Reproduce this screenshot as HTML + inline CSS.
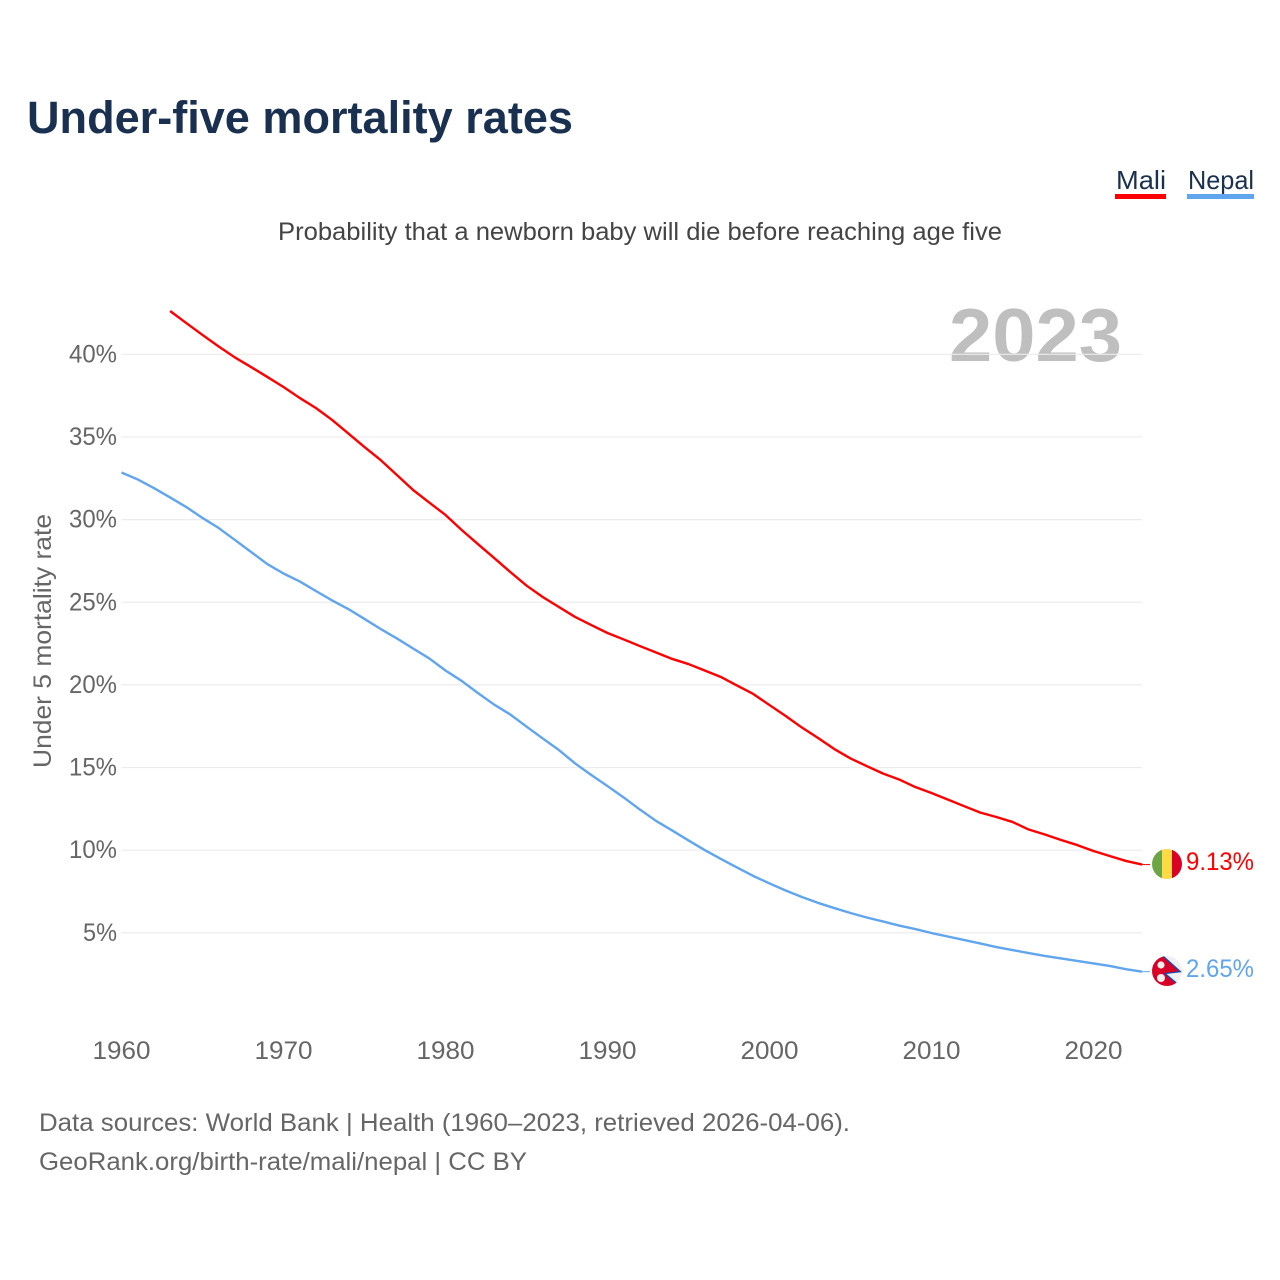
<!DOCTYPE html>
<html lang="en">
<head>
<meta charset="utf-8">
<title>Under-five mortality rates</title>
<style>
html,body{margin:0;padding:0;background:#fff;width:1280px;height:1280px;overflow:hidden}
svg{display:block}
text{font-family:"Liberation Sans",sans-serif}
</style>
</head>
<body>
<svg id="chart" xmlns="http://www.w3.org/2000/svg" width="1280" height="1280" viewBox="0 0 1280 1280">
  <rect width="1280" height="1280" fill="#ffffff"/>
  <text x="27" y="133" font-size="45" font-weight="700" fill="#1a3050" textLength="546" lengthAdjust="spacingAndGlyphs">Under-five mortality rates</text>
  <g>
    <text x="1116" y="189" font-size="26" fill="#1a3050" textLength="50" lengthAdjust="spacingAndGlyphs">Mali</text>
    <rect x="1115" y="194" width="51" height="5" fill="#ff0000"/>
  </g>
  <g>
    <text x="1188" y="189" font-size="26" fill="#1a3050" textLength="66" lengthAdjust="spacingAndGlyphs">Nepal</text>
    <rect x="1187" y="194" width="67" height="5" fill="#60a5ee"/>
  </g>
  <text x="278" y="240" font-size="25" fill="#444444" textLength="724" lengthAdjust="spacingAndGlyphs">Probability that a newborn baby will die before reaching age five</text>
  <text x="949" y="361" font-size="75" font-weight="700" fill="#bfbfbf" textLength="173" lengthAdjust="spacingAndGlyphs">2023</text>
  <g id="grid"></g>
  <g id="yticks"></g>
  <g id="xticks"></g>
  <text transform="translate(51,641) rotate(-90)" text-anchor="middle" font-size="25" fill="#666666" textLength="254" lengthAdjust="spacingAndGlyphs">Under 5 mortality rate</text>
  <g id="series"></g>
  <defs>
    <clipPath id="mali-clip"><circle cx="1167" cy="864" r="15"/></clipPath>
    <clipPath id="nepal-clip"><circle cx="1167" cy="971" r="15"/></clipPath>
  </defs>
  <g clip-path="url(#mali-clip)">
    <rect x="1152" y="849" width="10" height="30" fill="#6da544"/>
    <rect x="1162" y="849" width="10" height="30" fill="#ffda44"/>
    <rect x="1172" y="849" width="10" height="30" fill="#d80027"/>
  </g>
  <g clip-path="url(#nepal-clip)">
    <rect x="1152" y="956" width="30" height="30" fill="#f0f0f0"/>
    <polygon points="1150,954 1163,956 1180.5,971.7 1165,973.5 1177,983.5 1176,990 1150,990" fill="#d80027" stroke="#0052b4" stroke-width="1.2"/>
    <circle cx="1161" cy="965" r="3.6" fill="#f0f0f0"/>
    <circle cx="1161" cy="978" r="4" fill="#f0f0f0"/>
  </g>
  <text x="1186" y="870" font-size="25" fill="#ff0000" textLength="68" lengthAdjust="spacingAndGlyphs">9.13%</text>
  <text x="1186" y="977" font-size="25" fill="#60a5ee" textLength="68" lengthAdjust="spacingAndGlyphs">2.65%</text>
  <text x="39" y="1131" font-size="25" fill="#666666" textLength="811" lengthAdjust="spacingAndGlyphs">Data sources: World Bank | Health (1960–2023, retrieved 2026-04-06).</text>
  <text x="39" y="1170" font-size="25" fill="#666666" textLength="488" lengthAdjust="spacingAndGlyphs">GeoRank.org/birth-rate/mali/nepal | CC BY</text>
</svg>
<script>
const startYear = 1960;
const yTickValues = [5, 10, 15, 20, 25, 30, 35, 40];
const xTickYears = [1960, 1970, 1980, 1990, 2000, 2010, 2020];
const maliValues = [null, null, null,
  42.62, 41.89, 41.17, 40.47, 39.81, 39.23, 38.63, 38.02, 37.36, 36.75, 36.03, 35.21, 34.39, 33.60, 32.70, 31.79,
  31.03, 30.28, 29.37, 28.52, 27.68, 26.83, 26.01, 25.32, 24.71, 24.11, 23.62, 23.14, 22.75, 22.35, 21.96, 21.57,
  21.26, 20.87, 20.48, 19.96, 19.45, 18.78, 18.12, 17.42, 16.79, 16.12, 15.55, 15.09, 14.64, 14.28, 13.82, 13.46,
  13.07, 12.67, 12.28, 12.01, 11.71, 11.25, 10.95, 10.62, 10.31, 9.95, 9.65, 9.35, 9.13];
const nepalValues = [
  32.85, 32.43, 31.91, 31.34, 30.76, 30.10, 29.49, 28.77, 28.04, 27.31, 26.74, 26.26, 25.68, 25.11, 24.59, 23.99,
  23.38, 22.81, 22.20, 21.60, 20.87, 20.24, 19.51, 18.81, 18.21, 17.48, 16.76, 16.06, 15.25, 14.55, 13.88, 13.19,
  12.46, 11.77, 11.19, 10.59, 10.01, 9.47, 8.95, 8.44, 7.99, 7.56, 7.17, 6.81, 6.50, 6.20, 5.93, 5.69,
  5.44, 5.23, 4.99, 4.78, 4.57, 4.36, 4.14, 3.96, 3.78, 3.60, 3.45, 3.30, 3.15, 3.00, 2.80, 2.65];

const NS = 'http://www.w3.org/2000/svg';
function xScale(year) { return 121.5 + (year - 1960) * 16.2; }
function yScale(v) { return 1015.5 - v * 16.53; }
function make(tag, attrs, text) {
  const el = document.createElementNS(NS, tag);
  for (const k in attrs) el.setAttribute(k, attrs[k]);
  if (text !== undefined) el.textContent = text;
  return el;
}
function linePath(values) {
  let d = '';
  values.forEach(function (v, i) {
    if (v === null) return;
    d += (d ? 'L' : 'M') + xScale(startYear + i).toFixed(2) + ' ' + yScale(v).toFixed(2);
  });
  return d;
}
const grid = document.getElementById('grid');
const yticks = document.getElementById('yticks');
const xticks = document.getElementById('xticks');
const series = document.getElementById('series');

yTickValues.forEach(function (v) {
  const line = make('line', { x1: xScale(1960), x2: xScale(2023), y1: yScale(v), y2: yScale(v), stroke: '#ececec', 'stroke-width': 1.2 });
  
  
  grid.appendChild(line);
  const label = make('text', { x: 117, y: yScale(v) + 8, 'text-anchor': 'end', 'font-size': 25, fill: '#666666', textLength: v < 10 ? 34 : 48, lengthAdjust: 'spacingAndGlyphs' }, v + '%');
  
  
  yticks.appendChild(label);
});

xTickYears.forEach(function (yr) {
  const label = make('text', { x: xScale(yr), y: 1059, 'text-anchor': 'middle', 'font-size': 25, fill: '#666666', textLength: 58, lengthAdjust: 'spacingAndGlyphs' }, String(yr));
  
  
  xticks.appendChild(label);
});

const maliLine = make('path', { d: linePath(maliValues), fill: 'none', stroke: '#ff0000', 'stroke-width': 2.4, 'stroke-linejoin': 'round' });


series.appendChild(maliLine);

const nepalLine = make('path', { d: linePath(nepalValues), fill: 'none', stroke: '#60a5ee', 'stroke-width': 2.4, 'stroke-linejoin': 'round' });


series.appendChild(nepalLine);

const maliLast = maliValues[maliValues.length - 1];
const maliConnector = make('line', { x1: xScale(2023), x2: xScale(2023) + 8, y1: yScale(maliLast), y2: yScale(maliLast), stroke: '#ff0000', 'stroke-width': 1 });


series.appendChild(maliConnector);

const nepalLast = nepalValues[nepalValues.length - 1];
const nepalConnector = make('line', { x1: xScale(2023), x2: xScale(2023) + 8, y1: yScale(nepalLast), y2: yScale(nepalLast), stroke: '#60a5ee', 'stroke-width': 1 });


series.appendChild(nepalConnector);
</script>
</body>
</html>
